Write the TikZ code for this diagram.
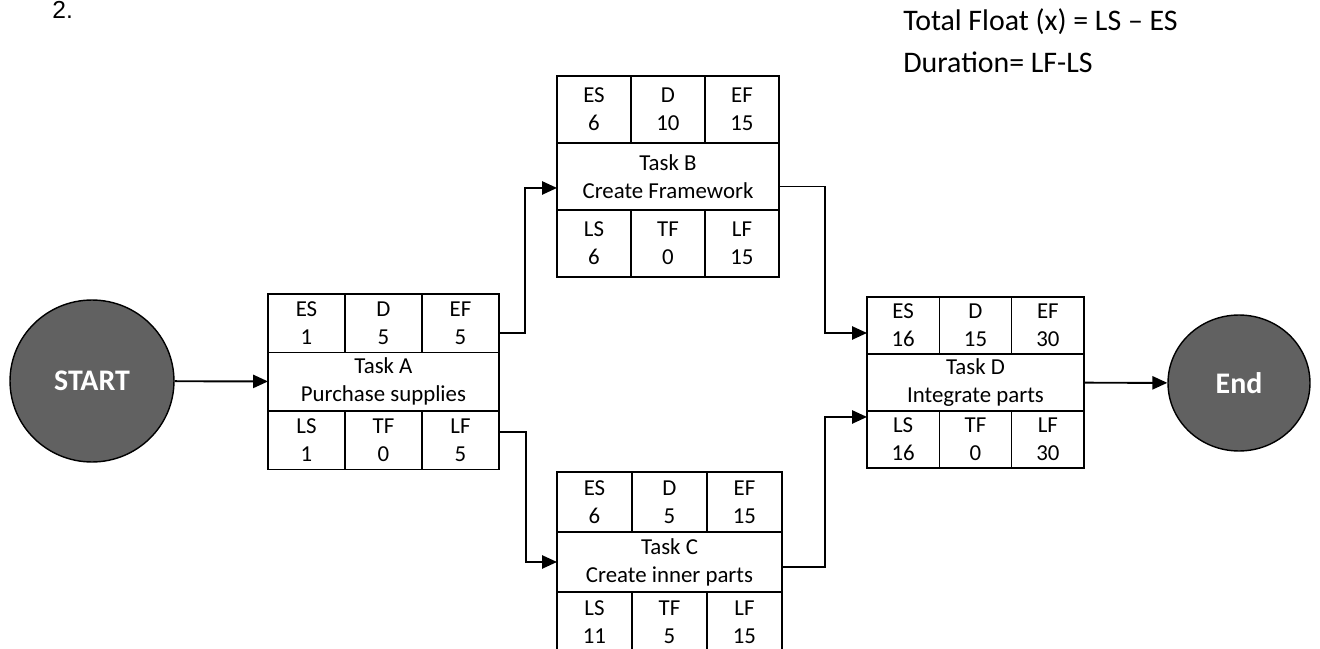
\documentclass[tikz,border=0pt]{standalone}
\usepackage{fontspec}
\setmainfont{Carlito}
\newfontfamily\numfont{Liberation Sans}
\usetikzlibrary{arrows.meta,positioning,shapes.geometric}

\begin{document}
\begin{tikzpicture}[
        x=0.02cm, y=-0.02cm,
        >={Triangle[length=8.5pt, width=7.5pt]},
        box/.style={draw, line width=0.8pt, inner sep=0pt, outer sep=0pt, align=center, font=\fontsize{13}{16}\selectfont},
        acell/.style={box, minimum width=1.54cm, minimum height=1.17cm},
        atitle/.style={box, minimum width=4.62cm, minimum height=1.17cm},
        bcell/.style={box, minimum width=1.48cm, minimum height=1.34cm},
        btitle/.style={box, minimum width=4.44cm, minimum height=1.34cm},
        ccell/.style={box, minimum width=1.5cm, minimum height=1.2cm},
        ctitle/.style={box, minimum width=4.5cm, minimum height=1.2cm},
        dcell/.style={box, minimum width=1.447cm, minimum height=1.14cm},
        dtitle/.style={box, minimum width=4.34cm, minimum height=1.14cm},
        terminal/.style={ellipse, draw, line width=0.8pt, fill=black!62, inner sep=0pt, text=white, font=\fontsize{17}{19}\selectfont\bfseries},
        note/.style={anchor=base west, inner sep=0pt, font=\fontsize{17}{23}\selectfont},
        conn/.style={->, line width=1.1pt}
    ]
        \useasboundingbox (0,0) rectangle (1320,649);

        % heading and formulas
        \node[anchor=base west, inner sep=0pt, font=\numfont\fontsize{14}{17}\selectfont] (num) at (52,18) {2.};
        \node[note] (tf) at (903,31) {Total Float (x) = LS – ES};
        \node[note] (dur) at (903,72) {Duration= LF-LS};

        % start and end
        \node[terminal, minimum width=3.28cm, minimum height=3.24cm] (start) at (92,381) {START};
        \node[terminal, minimum width=2.84cm, minimum height=2.72cm] (finish) at (1239,383) {End};

        % task A
        \node[acell, anchor=north west] (aES) at (268,294) {ES\\1};
        \node[acell, right=0pt of aES] (aD) {D\\5};
        \node[acell, right=0pt of aD] (aEF) {EF\\5};
        \node[atitle, below=0pt of aD] (aT) {Task A\\Purchase supplies};
        \node[acell, below=0pt of aT] (aTF) {TF\\0};
        \node[acell, left=0pt of aTF] (aLS) {LS\\1};
        \node[acell, right=0pt of aTF] (aLF) {LF\\5};

        % task B
        \node[bcell, anchor=north west] (bES) at (557,76) {ES\\6};
        \node[bcell, right=0pt of bES] (bD) {D\\10};
        \node[bcell, right=0pt of bD] (bEF) {EF\\15};
        \node[btitle, below=0pt of bD] (bT) {Task B\\Create Framework};
        \node[bcell, below=0pt of bT] (bTF) {TF\\0};
        \node[bcell, left=0pt of bTF] (bLS) {LS\\6};
        \node[bcell, right=0pt of bTF] (bLF) {LF\\15};

        % task C
        \node[ccell, anchor=north west] (cES) at (557,472) {ES\\6};
        \node[ccell, right=0pt of cES] (cD) {D\\5};
        \node[ccell, right=0pt of cD] (cEF) {EF\\15};
        \node[ctitle, below=0pt of cD] (cT) {Task C\\Create inner parts};
        \node[ccell, below=0pt of cT] (cTF) {TF\\5};
        \node[ccell, left=0pt of cTF] (cLS) {LS\\11};
        \node[ccell, right=0pt of cTF] (cLF) {LF\\15};

        % task D
        \node[dcell, anchor=north west] (dES) at (867,297) {ES\\16};
        \node[dcell, right=0pt of dES] (dD) {D\\15};
        \node[dcell, right=0pt of dD] (dEF) {EF\\30};
        \node[dtitle, below=0pt of dD] (dT) {Task D\\Integrate parts};
        \node[dcell, below=0pt of dT] (dTF) {TF\\0};
        \node[dcell, left=0pt of dTF] (dLS) {LS\\16};
        \node[dcell, right=0pt of dTF] (dLF) {LF\\30};

        % connectors
        \draw[conn] (start) -- (aT);
        \draw[conn] ([yshift=-0.2cm]aEF.east) -- ++(26,0) |- ([yshift=-0.23cm]bT.west);
        \draw[conn] ([yshift=0.16cm]aLF.east) -- ++(27,0) |- (cT.west);
        \draw[conn] ([yshift=-0.2cm]bT.east) -- ++(46,0) |- ([yshift=-0.15cm]dES.west);
        \draw[conn] ([yshift=-0.1cm]cT.east) -- ++(43,0) |- ([yshift=0.45cm]dLS.west);
        \draw[conn] (dT) -- (finish);
    \end{tikzpicture}
\end{document}
